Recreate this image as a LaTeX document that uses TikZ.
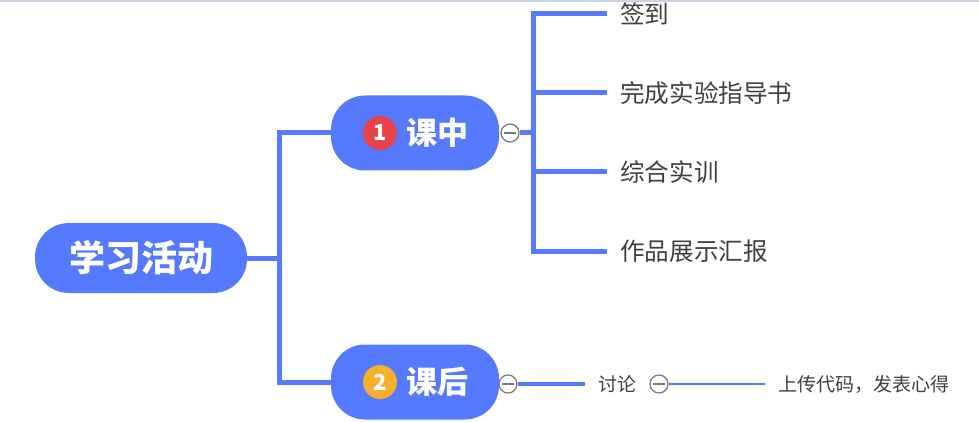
\documentclass[tikz,border=0pt]{standalone}
\usepackage{fontspec}
\newfontfamily\cjk{Noto Sans CJK SC}
\usetikzlibrary{positioning}

\definecolor{mapblue}{RGB}{86,122,255}
\definecolor{badgered}{RGB}{232,66,74}
\definecolor{badgeorange}{RGB}{246,176,46}
\definecolor{leafgray}{RGB}{64,64,64}
\definecolor{foldgray}{RGB}{120,120,120}
\definecolor{edgeline}{RGB}{200,212,228}

\tikzset{
  pill/.style={fill=mapblue, rounded corners=34pt, inner sep=0pt},
  pilltext/.style={text=white, font=\cjk\bfseries\fontsize{31}{36}\selectfont, inner sep=0pt},
  badge/.style={circle, minimum size=34pt, inner sep=0pt, text=white,
    font=\cjk\bfseries\fontsize{22}{26}\selectfont},
  branch/.style={mapblue, line width=5pt},
  thinbranch/.style={mapblue, line width=2pt},
  leaf/.style={anchor=west, text=leafgray, inner xsep=13pt, inner ysep=2pt,
    font=\cjk\fontsize{24.6}{28}\selectfont},
  smallleaf/.style={leaf, font=\cjk\fontsize{19}{22}\selectfont},
  fold/.style={circle, draw=foldgray, line width=1.2pt, fill=white,
    minimum size=18pt, inner sep=0pt,
    path picture={\draw[foldgray, line width=1.2pt]
      ([xshift=3pt]path picture bounding box.west) --
      ([xshift=-3pt]path picture bounding box.east);}},
}

\begin{document}
\begin{tikzpicture}[x=1pt, y=-1pt]
  \useasboundingbox (0,0) rectangle (979,422);
  \draw[edgeline, line width=2pt] (0,1) -- (979,1);

  % root
  \node[pill, minimum width=212pt, minimum height=70pt] (root) at (141,258) {};
  \node[pilltext, font=\cjk\bfseries\fontsize{36}{40}\selectfont] (rootlabel) at (141,258) {学习活动};

  % two main topics
  \node[pill, minimum width=168pt, minimum height=75pt] (ke1) at (415,133) {};
  \node[badge, fill=badgered] (num1) at (380,133) {1};
  \node[pilltext, anchor=west] (ke1label) at (406,133) {课中};

  \node[pill, minimum width=168pt, minimum height=75pt] (ke2) at (415,382) {};
  \node[badge, fill=badgeorange] (num2) at (380,382) {2};
  \node[pilltext, anchor=west] (ke2label) at (406,382) {课后};

  \coordinate (hub) at (279,258);
  \draw[branch] (root.east) -- (hub);
  \draw[branch] (hub) |- (ke1.west);
  \draw[branch] (hub) |- (ke2.west);

  % leaves of ke1
  \node[fold] (fold1) at (510,133) {};
  \coordinate (hub1) at (533,133);
  \node[leaf] (qiandao) at (607,14) {签到};
  \node[leaf] (shiyan) at (607,93) {完成实验指导书};
  \node[leaf] (shixun) at (607,172) {综合实训};
  \node[leaf] (huibao) at (607,251) {作品展示汇报};

  \draw[branch] (fold1.east) -- (hub1);
  \foreach \leafname in {qiandao, shiyan, shixun, huibao}
    \draw[branch] (hub1) |- (\leafname.west);

  % leaves of ke2
  \node[fold] (fold2) at (508,384) {};
  \node[smallleaf] (taolun) at (585,384) {讨论};
  \node[fold, right=0pt of taolun] (fold3) {};
  \node[smallleaf] (shangchuan) at (765,384) {上传代码，发表心得};

  \draw[branch, line width=4pt] (fold2.east) -- (taolun.west);
  \draw[thinbranch] (fold3.east) -- (shangchuan.west);
\end{tikzpicture}
\end{document}
